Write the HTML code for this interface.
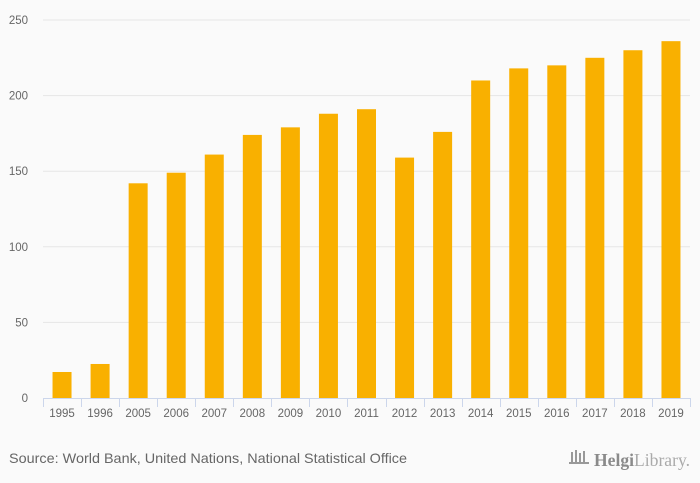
<!DOCTYPE html>
<html><head><meta charset="utf-8"><style>
body{margin:0;background:#fafafa;font-family:"Liberation Sans","DejaVu Sans",sans-serif;}
svg{display:block}
</style></head><body>
<svg width="700" height="483">
<rect width="700" height="483" fill="#fafafa"/>
<g id="grid"></g><g id="bars"></g><g id="axis"></g>
<text x="9" y="463" font-size="14" fill="#666" textLength="398" lengthAdjust="spacingAndGlyphs">Source: World Bank, United Nations, National Statistical Office</text>
<g>
<g fill="#999"><rect x="571" y="452" width="2" height="10"/><rect x="575" y="450" width="2" height="12"/><rect x="579" y="453" width="2" height="9"/><rect x="583" y="451" width="2" height="11"/><rect x="569" y="462" width="20" height="2"/></g>
<text x="594" y="466" font-size="18" fill="#999" font-family="Liberation Serif,serif" textLength="96" lengthAdjust="spacingAndGlyphs"><tspan font-weight="bold" fill="#8a8a8a">Helgi</tspan><tspan fill="#aaa">Library.</tspan></text>
</g>
</svg>
<script>
const categories=["1995","1996","2005","2006","2007","2008","2009","2010","2011","2012","2013","2014","2015","2016","2017","2018","2019"];
const values=[17.2,22.5,142,149,161,174,179,188,191,159,176,210,218,220,225,230,236];
const yTicks=[0,50,100,150,200,250];
const NS="http://www.w3.org/2000/svg";
const x0=43,x1=690,y0=398,yTop=20,maxV=250;
const bw=(x1-x0)/categories.length;
const yScale=v=>y0-(v/maxV)*(y0-yTop);
const xScale=i=>x0+i*bw;
function mk(t,a,p){const e=document.createElementNS(NS,t);for(const k in a)e.setAttribute(k,a[k]);p.appendChild(e);return e;}
const grid=document.getElementById('grid'),bars=document.getElementById('bars'),axis=document.getElementById('axis');
yTicks.forEach(t=>{
 if(t>0){const l=mk('line',{x1:x0,x2:x1,y1:yScale(t),y2:yScale(t),stroke:'#e6e6e6','stroke-width':1},grid);
 
 }
 const tx=mk('text',{x:28,y:yScale(t)+4,'font-size':11.5,fill:'#666','text-anchor':'end'},axis);tx.textContent=t;
 
 
});
categories.forEach((c,i)=>{
 const cx=xScale(i)+bw/2;
 const r=mk('rect',{x:cx-9.5,y:yScale(values[i]),width:19,height:y0-yScale(values[i]),fill:'#f9b000'},bars);
 
 
 const tx=mk('text',{x:cx,y:417,'font-size':11.5,fill:'#666','text-anchor':'middle'},axis);tx.textContent=c;
 
 
});
const al=mk('line',{x1:x0,x2:x1,y1:y0+0.5,y2:y0+0.5,stroke:'#ccd6eb'},axis);


for(let i=0;i<=categories.length;i++){const x=Math.round(xScale(i))+0.5;const tk=mk('line',{x1:x,x2:x,y1:y0,y2:y0+9,stroke:'#ccd6eb'},axis);
 
 }
</script>
</body></html>
